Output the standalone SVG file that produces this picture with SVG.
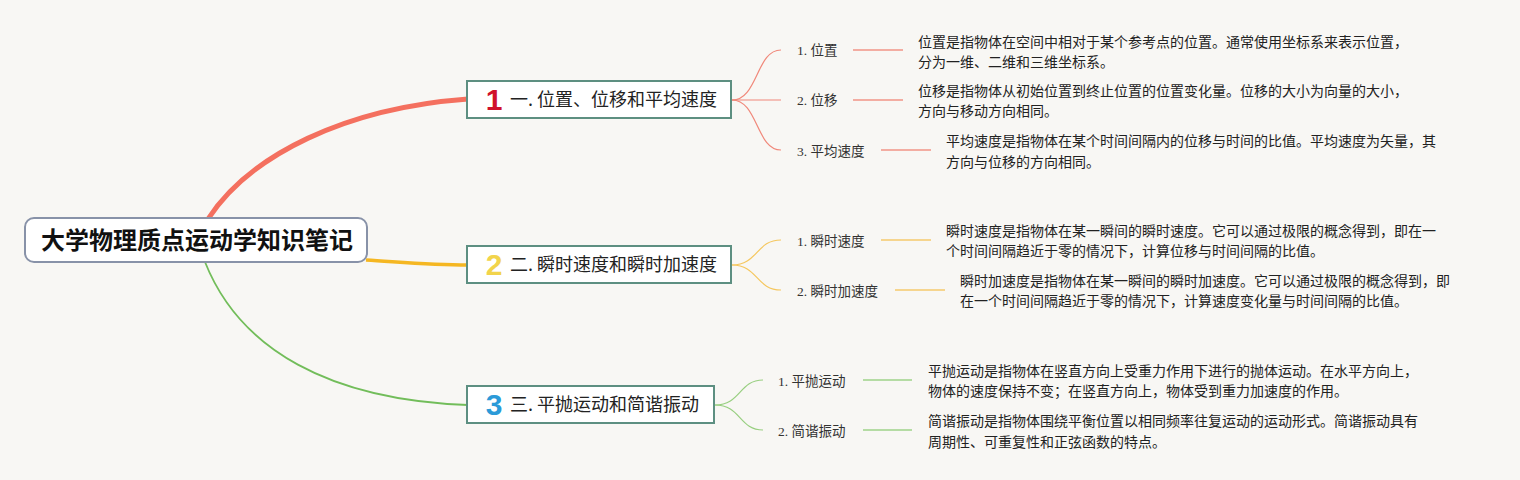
<svg xmlns="http://www.w3.org/2000/svg" width="1520" height="480" viewBox="0 0 1520 480">
<style>
.bg{fill:#f8f7f4}
.root{fill:#ffffff;stroke:#8892a8;stroke-width:2}
.main{fill:#ffffff;stroke:#5d8f81;stroke-width:2}
.rt{font-family:"Noto Sans CJK SC","Liberation Sans",sans-serif;font-size:24px;font-weight:bold;fill:#111}
.mt{font-family:"Noto Sans CJK SC","Liberation Sans",sans-serif;font-size:18px;fill:#222}
.badge{font-family:"Liberation Sans","Noto Sans",sans-serif;font-size:30px;font-weight:bold;text-anchor:middle}
.lb{font-family:"Liberation Serif","Noto Sans CJK SC",serif;font-size:13.5px;fill:#333}
.ds{font-family:"Noto Sans CJK SC","Liberation Sans",sans-serif;font-size:14px;fill:#222}
.r{stroke:#f0887a;fill:none;stroke-width:1.2}
.ru{stroke:#f3ada2;fill:none;stroke-width:2}
.y{stroke:#f5c75e;fill:none;stroke-width:1.2}
.yu{stroke:#f6d58e;fill:none;stroke-width:2}
.g{stroke:#98cf80;fill:none;stroke-width:1.2}
.gu{stroke:#b5dca4;fill:none;stroke-width:2}
</style>
<rect class="bg" x="0" y="0" width="1520" height="480"/>
<g id="connectors">
<path d="M208 219 C 250 155, 345 108, 468 99" stroke="#f4705f" stroke-width="5" fill="none" stroke-linecap="round"/>
<path d="M366 260 C 400 262, 430 265, 468 265" stroke="#f5b722" stroke-width="3.5" fill="none"/>
<path d="M205 262 C 240 350, 330 400, 468 405" stroke="#72bd5a" stroke-width="1.8" fill="none"/>
<path class="r" d="M732 100 C 758 100, 756 50, 781 50"/>
<path class="r" d="M732 100 L 781 100"/>
<path class="r" d="M732 100 C 758 100, 756 150, 781 150"/>
<path class="ru" d="M853 50 L 903 50"/>
<path class="ru" d="M853 100 L 903 100"/>
<path class="ru" d="M881 150 L 931 150"/>
<path class="y" d="M732 265 C 758 265, 756 240, 781 240"/>
<path class="y" d="M732 265 C 758 265, 756 290, 781 290"/>
<path class="yu" d="M881 240 L 931 240"/>
<path class="yu" d="M895 290 L 945 290"/>
<path class="g" d="M715 405 C 741 405, 739 380, 763 380"/>
<path class="g" d="M715 405 C 741 405, 739 430, 763 430"/>
<path class="gu" d="M863 380 L 912 380"/>
<path class="gu" d="M863 430 L 912 430"/>
</g>
<g id="root">
<rect class="root" x="25" y="218" width="342" height="44" rx="9"/>
<text class="rt" x="41" y="249">大学物理质点运动学知识笔记</text>
</g>
<g id="n1">
<rect class="main" x="467" y="81" width="264" height="37"/>
<text class="badge" x="494" y="110" fill="#d0112b">1</text>
<text class="mt" x="510" y="106">一. 位置、位移和平均速度</text>
</g>
<g id="n2">
<rect class="main" x="467" y="246" width="264" height="37"/>
<text class="badge" x="494" y="275" fill="#f2d44b">2</text>
<text class="mt" x="510" y="271">二. 瞬时速度和瞬时加速度</text>
</g>
<g id="n3">
<rect class="main" x="467" y="386" width="247" height="37"/>
<text class="badge" x="494" y="415" fill="#2b9ad8">3</text>
<text class="mt" x="510" y="411">三. 平抛运动和简谐振动</text>
</g>
<g id="n1-1">
<text class="lb" x="797" y="55">1. 位置</text>
<text class="ds" x="918" y="47">位置是指物体在空间中相对于某个参考点的位置。通常使用坐标系来表示位置，</text>
<text class="ds" x="918" y="67">分为一维、二维和三维坐标系。</text>
</g>
<g id="n1-2">
<text class="lb" x="797" y="105">2. 位移</text>
<text class="ds" x="918" y="96">位移是指物体从初始位置到终止位置的位置变化量。位移的大小为向量的大小，</text>
<text class="ds" x="918" y="116">方向与移动方向相同。</text>
</g>
<g id="n1-3">
<text class="lb" x="797" y="156">3. 平均速度</text>
<text class="ds" x="946" y="146">平均速度是指物体在某个时间间隔内的位移与时间的比值。平均速度为矢量，其</text>
<text class="ds" x="946" y="167">方向与位移的方向相同。</text>
</g>
<g id="n2-1">
<text class="lb" x="797" y="246">1. 瞬时速度</text>
<text class="ds" x="946" y="236">瞬时速度是指物体在某一瞬间的瞬时速度。它可以通过极限的概念得到，即在一</text>
<text class="ds" x="946" y="256">个时间间隔趋近于零的情况下，计算位移与时间间隔的比值。</text>
</g>
<g id="n2-2">
<text class="lb" x="797" y="296">2. 瞬时加速度</text>
<text class="ds" x="960" y="286">瞬时加速度是指物体在某一瞬间的瞬时加速度。它可以通过极限的概念得到，即</text>
<text class="ds" x="960" y="306">在一个时间间隔趋近于零的情况下，计算速度变化量与时间间隔的比值。</text>
</g>
<g id="n3-1">
<text class="lb" x="778" y="386">1. 平抛运动</text>
<text class="ds" x="928" y="376">平抛运动是指物体在竖直方向上受重力作用下进行的抛体运动。在水平方向上，</text>
<text class="ds" x="928" y="396">物体的速度保持不变；在竖直方向上，物体受到重力加速度的作用。</text>
</g>
<g id="n3-2">
<text class="lb" x="778" y="436">2. 简谐振动</text>
<text class="ds" x="928" y="426">简谐振动是指物体围绕平衡位置以相同频率往复运动的运动形式。简谐振动具有</text>
<text class="ds" x="928" y="447">周期性、可重复性和正弦函数的特点。</text>
</g>
</svg>
